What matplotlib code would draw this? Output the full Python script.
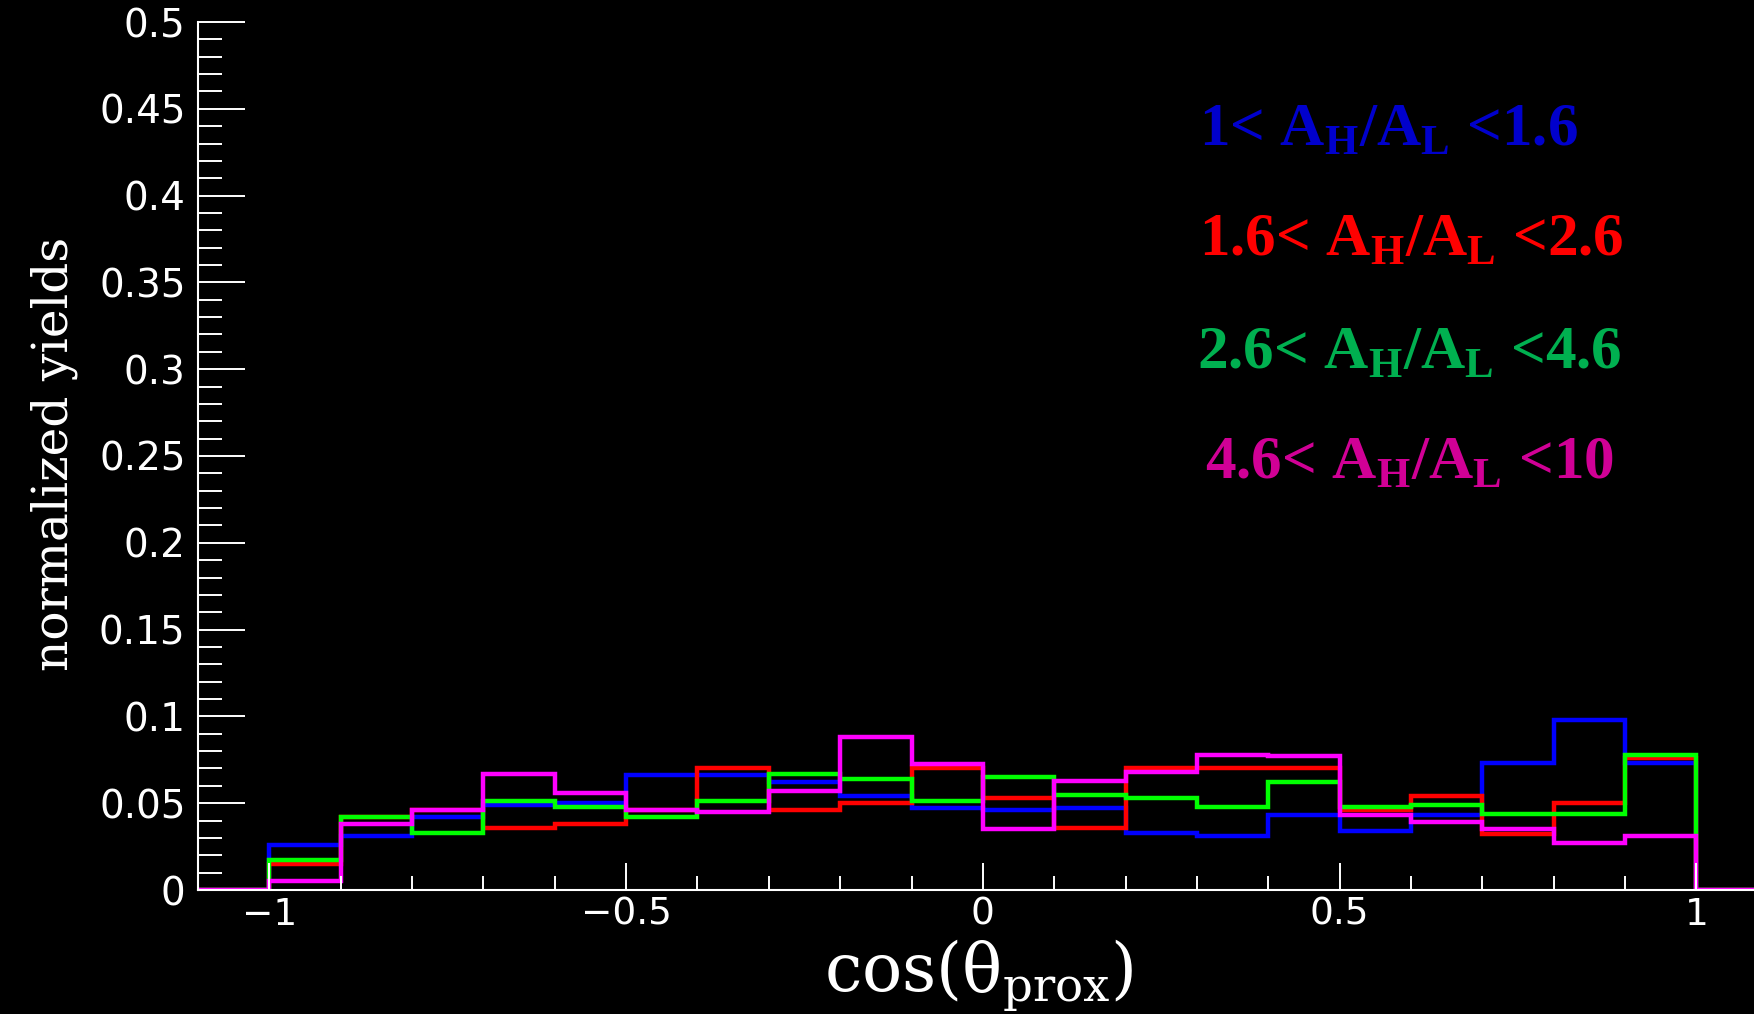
import matplotlib
matplotlib.use('Agg')
import matplotlib.pyplot as plt
import numpy as np
from matplotlib.ticker import MultipleLocator, FuncFormatter

# bins of cos(theta_prox) from -1 to 1, width 0.1
bin_edges = np.linspace(-1.0, 1.0, 21)

# normalized yields per A_H/A_L window
yield_1_16 = [0.026, 0.031, 0.042, 0.049, 0.050, 0.066, 0.066, 0.062, 0.054, 0.047,
              0.046, 0.047, 0.033, 0.031, 0.043, 0.034, 0.043, 0.073, 0.098, 0.073]
yield_16_26 = [0.015, 0.042, 0.046, 0.036, 0.038, 0.046, 0.070, 0.046, 0.050, 0.070,
               0.053, 0.0355, 0.070, 0.070, 0.070, 0.046, 0.054, 0.0325, 0.050, 0.076]
yield_26_46 = [0.017, 0.042, 0.033, 0.0515, 0.048, 0.042, 0.0515, 0.067, 0.064, 0.0515,
               0.065, 0.055, 0.053, 0.048, 0.062, 0.048, 0.049, 0.044, 0.044, 0.078]
yield_46_10 = [0.005, 0.038, 0.046, 0.067, 0.056, 0.046, 0.045, 0.057, 0.088, 0.0725,
               0.035, 0.063, 0.068, 0.078, 0.077, 0.043, 0.039, 0.035, 0.027, 0.031]

series = [yield_1_16, yield_16_26, yield_26_46, yield_46_10]
line_colors = ['#0000FF', '#FF0000', '#00FF00', '#FF00FF']
labels = [r'1< A$_{\mathbf{H}}$/A$_{\mathbf{L}}$ <1.6',
          r'1.6< A$_{\mathbf{H}}$/A$_{\mathbf{L}}$ <2.6',
          r'2.6< A$_{\mathbf{H}}$/A$_{\mathbf{L}}$ <4.6',
          r'4.6< A$_{\mathbf{H}}$/A$_{\mathbf{L}}$ <10']
label_colors = ['#0000CC', '#FF0000', '#00B050', '#D10096']

plt.rcParams['mathtext.fontset'] = 'custom'
plt.rcParams['mathtext.rm'] = 'DejaVu Serif'
plt.rcParams['mathtext.it'] = 'DejaVu Serif:italic'
plt.rcParams['mathtext.bf'] = 'Liberation Serif:bold'

W, H = 1754, 1014
fig = plt.figure(figsize=(W / 100, H / 100), dpi=100, facecolor='black')
ax = fig.add_axes([198 / W, 1 - 890 / H, 1 - 198 / W, (890 - 22) / H])
ax.set_facecolor('black')

# pad with empty bins outside [-1, 1] like the ROOT histogram range
edges = np.concatenate([[-1.1], bin_edges, [1.1]])
for vals, c in zip(series, line_colors):
    ax.stairs([0] + vals + [0], edges, baseline=0, color=c, linewidth=3.2)

ax.set_xlim(-1.1, -1.1 + (W - 198) / 713.5)
ax.set_ylim(0, 0.5)

for s in ['top', 'right']:
    ax.spines[s].set_visible(False)
for s in ['left', 'bottom']:
    ax.spines[s].set_color('white')
    ax.spines[s].set_linewidth(1.5)

ax.yaxis.set_major_locator(MultipleLocator(0.05))
ax.yaxis.set_minor_locator(MultipleLocator(0.01))
ax.xaxis.set_major_locator(MultipleLocator(0.5))
ax.xaxis.set_minor_locator(MultipleLocator(0.1))
ax.yaxis.set_major_formatter(FuncFormatter(lambda v, p: f'{v:g}'))
ax.xaxis.set_major_formatter(FuncFormatter(lambda v, p: f'{v:g}'.replace('-', '\u2212')))

ax.tick_params(axis='y', which='major', direction='in', length=34, width=1.4,
               color='white', labelcolor='white', labelsize=28, pad=9)
ax.tick_params(axis='y', which='minor', direction='in', length=17, width=1.4, color='white')
ax.tick_params(axis='x', which='major', direction='in', length=19.5, width=1.4,
               color='white', labelcolor='white', labelsize=27, pad=5)
ax.tick_params(axis='x', which='minor', direction='in', length=10, width=1.4, color='white')
for t in ax.get_xticklabels() + ax.get_yticklabels():
    t.set_family('DejaVu Sans')

fig.text(54 / W, 1 - 454 / H, 'normalized yields', rotation=90, ha='center', va='center',
         color='white', fontsize=35, family='DejaVu Serif')
fig.text(979 / W, 1 - 992 / H, r'cos(θ$_{\mathrm{prox}}$)', ha='center', va='baseline',
         color='white', fontsize=48, family='DejaVu Serif')

text_x = [1199, 1199, 1197, 1205]
text_base = [145, 255, 368, 478]
for lab, c, x0, yb in zip(labels, label_colors, text_x, text_base):
    fig.text(x0 / W, 1 - yb / H, lab, ha='left', va='baseline', color=c,
             fontsize=44, family='Liberation Serif', fontweight='bold')

fig.savefig('out.png', dpi=100, facecolor='black')
